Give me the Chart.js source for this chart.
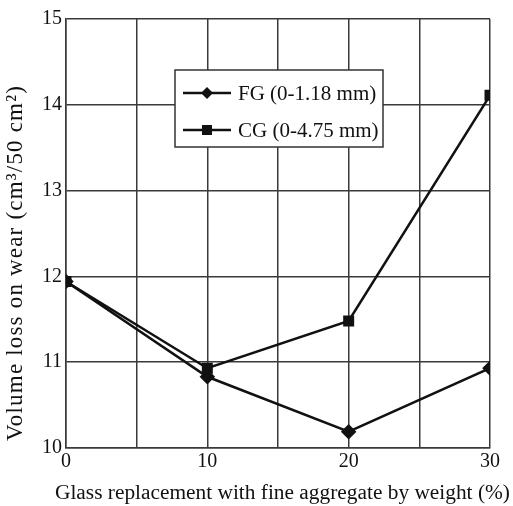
<!DOCTYPE html>
<html>
<head>
<meta charset="utf-8">
<script src="https://cdn.jsdelivr.net/npm/chart.js@4/dist/chart.umd.min.js"></script>
<style>
  html, body { margin: 0; padding: 0; background: #fff; }
  #wrap { width: 513px; height: 506px; }
</style>
</head>
<body>
<div id="wrap"><canvas id="wearChart"></canvas></div>
<script>
var glassPct = [0, 10, 20, 30];
var fgLoss = [11.94, 10.83, 10.19, 10.93];
var cgLoss = [11.94, 10.93, 11.48, 14.11];
var seriesNames = ['FG (0-1.18 mm)', 'CG (0-4.75 mm)'];
var yTicks = [10, 11, 12, 13, 14, 15];
var xTitle = 'Glass replacement with fine aggregate by weight (%)';
var yTitle = 'Volume loss on wear (cm\u00b3/50 cm\u00b2)';

var serif = '"Liberation Serif", "DejaVu Serif", serif';

function points(vals) {
    return glassPct.map(function(x, i) { return { x: x, y: vals[i] }; });
}

// legend drawn inside the plot, boxed like the original
var boxLegend = {
    id: 'boxLegend',
    afterDraw: function(chart) {
        var ctx = chart.ctx;
        var x0 = 175, y0 = 70, w = 208, h = 77;
        ctx.save();
        ctx.fillStyle = '#fff';
        ctx.fillRect(x0, y0, w, h);
        ctx.strokeStyle = '#333';
        ctx.lineWidth = 1.5;
        ctx.strokeRect(x0, y0, w, h);
        chart.data.datasets.forEach(function(ds, i) {
            var yy = y0 + 23 + i * 37;
            ctx.strokeStyle = '#111';
            ctx.lineWidth = 2.5;
            ctx.beginPath();
            ctx.moveTo(x0 + 8, yy);
            ctx.lineTo(x0 + 56, yy);
            ctx.stroke();
            ctx.fillStyle = '#111';
            if (ds.pointStyle === 'rect') {
                ctx.fillRect(x0 + 32 - 5, yy - 5, 10, 10);
            } else {
                ctx.beginPath();
                ctx.moveTo(x0 + 32, yy - 6);
                ctx.lineTo(x0 + 38, yy);
                ctx.lineTo(x0 + 32, yy + 6);
                ctx.lineTo(x0 + 26, yy);
                ctx.closePath();
                ctx.fill();
            }
            ctx.font = '21px ' + serif;
            ctx.textBaseline = 'middle';
            ctx.fillText(ds.label, x0 + 63, yy + 1);
        });
        ctx.restore();
    }
};

// axis titles, stretched to the span they take in the scan
var axisTitles = {
    id: 'axisTitles',
    afterDraw: function(chart) {
        var ctx = chart.ctx;
        ctx.save();
        ctx.fillStyle = '#111';
        ctx.textAlign = 'left';
        ctx.textBaseline = 'middle';

        // x title: size it to run from x=55 to x=510
        ctx.font = '20px ' + serif;
        var size = 20 * 455 / ctx.measureText(xTitle).width;
        ctx.font = size.toFixed(2) + 'px ' + serif;
        ctx.fillText(xTitle, 55, 493);

        // y title: 23px, letter-spaced to run from y=441 up to y=86
        ctx.translate(16, 441);
        ctx.rotate(-Math.PI / 2);
        ctx.font = '23px ' + serif;
        var gap = (355 - ctx.measureText(yTitle).width) / (yTitle.length - 1);
        ctx.letterSpacing = Math.max(0, gap).toFixed(2) + 'px';
        ctx.fillText(yTitle, 0, 0);
        ctx.restore();
    }
};

var ctx = document.getElementById('wearChart').getContext('2d');
new Chart(ctx, {
    type: 'line',
    data: {
        datasets: [{
            label: seriesNames[0],
            data: points(fgLoss),
            borderColor: '#111',
            backgroundColor: '#111',
            borderWidth: 2.5,
            pointStyle: 'rectRot',
            pointRadius: 6,
            tension: 0
        }, {
            label: seriesNames[1],
            data: points(cgLoss),
            borderColor: '#111',
            backgroundColor: '#111',
            borderWidth: 2.5,
            pointStyle: 'rect',
            pointRadius: 6,
            tension: 0
        }]
    },
    options: {
        responsive: true,
        maintainAspectRatio: false,
        animation: false,
        layout: { padding: { top: 19, right: 23 } },
        plugins: {
            legend: { display: false },
            tooltip: { enabled: false }
        },
        scales: {
            x: {
                type: 'linear',
                min: 0, max: 30,
                afterFit: function(s) { s.height = 58; },
                ticks: {
                    stepSize: 5,
                    color: '#111',
                    font: { family: serif, size: 20 },
                    padding: 2,
                    callback: function(v) { return v % 10 === 0 ? v : ''; }
                },
                grid: { color: '#3a3a3a', lineWidth: 1.5, drawTicks: false },
                border: { color: '#3a3a3a', width: 1.5 }
            },
            y: {
                min: yTicks[0], max: yTicks[yTicks.length - 1],
                afterFit: function(s) { s.width = 66; },
                afterBuildTicks: function(s) {
                    s.ticks = yTicks.map(function(v) { return { value: v }; });
                },
                ticks: {
                    color: '#111',
                    font: { family: serif, size: 20 },
                    padding: 4
                },
                grid: { color: '#3a3a3a', lineWidth: 1.5, drawTicks: false },
                border: { color: '#3a3a3a', width: 1.5 }
            }
        }
    },
    plugins: [boxLegend, axisTitles]
});
</script>
</body>
</html>
